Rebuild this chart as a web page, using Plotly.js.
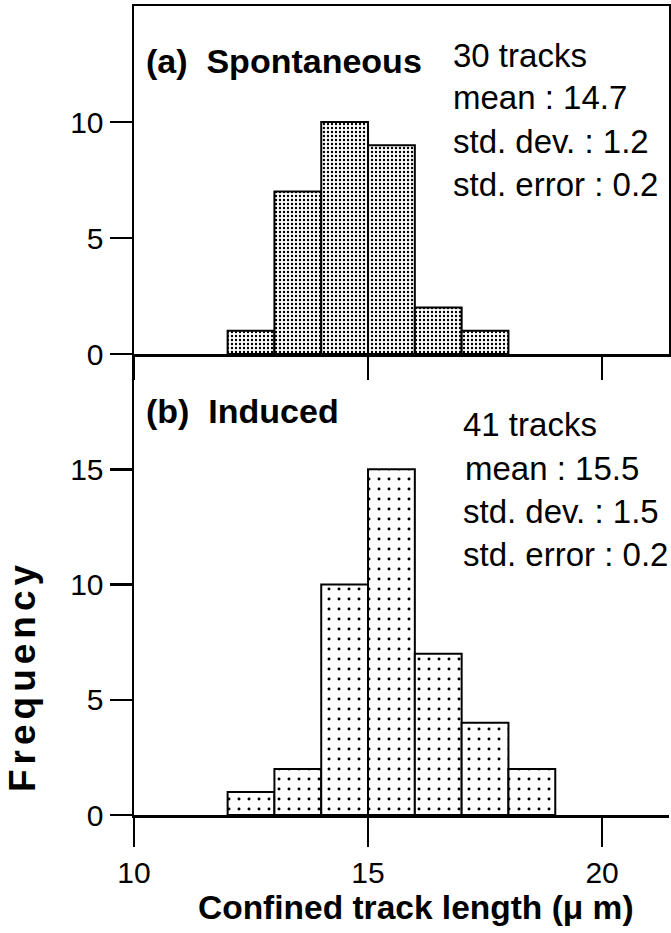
<!DOCTYPE html>
<html><head><meta charset="utf-8">
<script src="https://cdn.plot.ly/plotly-3.0.1.min.js"></script>
<style>
html,body{margin:0;padding:0;background:#fff;}
#chart{width:671px;height:933px;}
.annotation-text[data-unformatted="Frequency"]{letter-spacing:5px;}
</style>
</head><body><div id="chart"></div>
<script>
// Confined track length bins (µm, bin centres) and frequencies
const spontaneousLengths = [12.5, 13.5, 14.5, 15.5, 16.5, 17.5];
const spontaneousCounts  = [1, 7, 10, 9, 2, 1];
const inducedLengths = [12.5, 13.5, 14.5, 15.5, 16.5, 17.5, 18.5];
const inducedCounts  = [1, 2, 10, 15, 7, 4, 2];
const xTickVals = [10, 15, 20];
const yTickValsTop = [0, 5, 10];
const yTickValsBottom = [0, 5, 10, 15];
const spontaneousStats = ["30 tracks", "mean : 14.7", "std. dev. : 1.2", "std. error : 0.2"];
const inducedStats = ["41 tracks", "mean : 15.5", "std. dev. : 1.5", "std. error : 0.2"];
const panelLabels = ["(a)  Spontaneous", "(b)  Induced"];

const FONT = "Liberation Sans, Arial, Helvetica, sans-serif";
const W = 671, H = 933;
const L = 134, R = 2, T = 6, B = 118;
const PW = W - L - R, PH = H - T - B;
const split = 461 / PH;
const px = x => (x - L) / PW;
const py = y => (H - B - y) / PH;

const traces = [
  {type: 'bar', x: spontaneousLengths, y: spontaneousCounts, width: 1, xaxis: 'x2', yaxis: 'y2',
   marker: {color: 'white', line: {color: 'black', width: 2},
            pattern: {shape: '.', fgcolor: 'black', bgcolor: 'white', size: 4, solidity: 0.28, fillmode: 'replace'}},
   hoverinfo: 'x+y', showlegend: false},
  {type: 'bar', x: inducedLengths, y: inducedCounts, width: 1, xaxis: 'x', yaxis: 'y',
   marker: {color: 'white', line: {color: 'black', width: 2},
            pattern: {shape: '.', fgcolor: 'black', bgcolor: 'white', size: 10, solidity: 0.07, fillmode: 'replace'}},
   hoverinfo: 'x+y', showlegend: false}
];

const axBase = {showgrid: false, zeroline: false, showline: true, linecolor: 'black', linewidth: 2.5,
  ticks: 'outside', tickcolor: 'black', tickwidth: 2.5, tickfont: {family: FONT, size: 30, color: 'black'}};

const annotations = [];
const statFont = {family: FONT, size: 33, color: 'black'};
const boldFont = {family: FONT, size: 34, color: 'black', weight: 'bold'};
const topRows = [55, 98, 141, 184];
const botRows = [424, 468, 511, 554];
spontaneousStats.forEach((t, i) => annotations.push({text: t, xref: 'paper', yref: 'paper', x: px(451), y: py(topRows[i]),
  xanchor: 'left', yanchor: 'middle', showarrow: false, font: statFont}));
inducedStats.forEach((t, i) => annotations.push({text: t, xref: 'paper', yref: 'paper', x: px(i === 1 ? 463 : 461), y: py(botRows[i]),
  xanchor: 'left', yanchor: 'middle', showarrow: false, font: statFont}));
annotations.push({text: panelLabels[0], xref: 'paper', yref: 'paper', x: px(144), y: py(61), xanchor: 'left', yanchor: 'middle', showarrow: false, font: boldFont});
annotations.push({text: panelLabels[1], xref: 'paper', yref: 'paper', x: px(144), y: py(411), xanchor: 'left', yanchor: 'middle', showarrow: false, font: boldFont});
annotations.push({text: 'Frequency', xref: 'paper', yref: 'paper', x: px(22), y: py(676), xanchor: 'center', yanchor: 'middle', textangle: -90, showarrow: false,
  font: {family: FONT, size: 37, color: 'black', weight: 'bold'}});
annotations.push({text: 'Confined track length (μ m)', xref: 'paper', yref: 'paper', x: px(416), y: py(907), xanchor: 'center', yanchor: 'middle', showarrow: false,
  font: {family: FONT, size: 33.5, color: 'black', weight: 'bold'}});

const layout = {
  width: W, height: H, margin: {l: L, r: R, t: T, b: B},
  paper_bgcolor: 'white', plot_bgcolor: 'white', bargap: 0, showlegend: false,
  xaxis: Object.assign({}, axBase, {domain: [0, 1], anchor: 'y', range: [10, 21.43], tickvals: xTickVals, ticklen: 29}),
  xaxis2: Object.assign({}, axBase, {domain: [0, 1], anchor: 'y2', matches: 'x', range: [10, 21.43], tickvals: xTickVals, ticklen: 23, showticklabels: false, mirror: true}),
  yaxis: Object.assign({}, axBase, {domain: [0, split], anchor: 'x', range: [0, 20], tickvals: yTickValsBottom, ticklen: 22}),
  yaxis2: Object.assign({}, axBase, {domain: [split, 1], anchor: 'x2', range: [0, 15], tickvals: yTickValsTop, ticklen: 22, mirror: true}),
  annotations: annotations
};

Plotly.newPlot('chart', traces, layout, {displayModeBar: false, staticPlot: true});
</script>
</body></html>
